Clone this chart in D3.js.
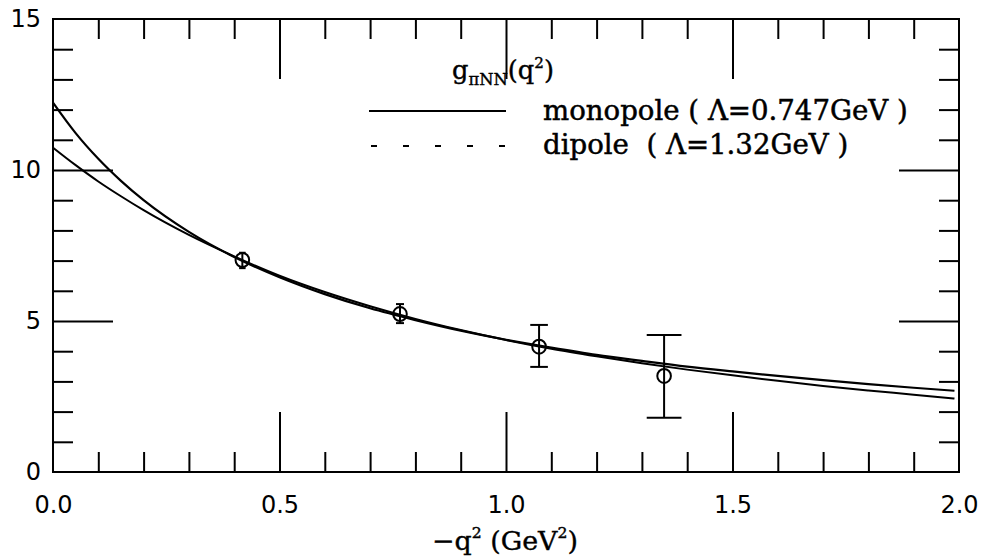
<!DOCTYPE html>
<html>
<head>
<meta charset="utf-8">
<script src="https://cdn.jsdelivr.net/npm/d3@7"></script>
<style>
  html, body { margin: 0; padding: 0; background: #fff; }
  svg { display: block; }
</style>
</head>
<body>
<svg id="chart" width="984" height="560"></svg>
<script>
// ---------- data ----------
const xTickValues = [0.0, 0.5, 1.0, 1.5, 2.0];
const xTickLabels = ["0.0", "0.5", "1.0", "1.5", "2.0"];
const yTickValues = [0, 5, 10, 15];
const yTickLabels = ["0", "5", "10", "15"];

// lattice data points: -q^2 (GeV^2), g, lower and upper error limits
const pointQ2 = [0.418, 0.766, 1.073, 1.349];
const pointG = [7.02, 5.23, 4.15, 3.18];
const pointLow = [6.75, 4.93, 3.48, 1.80];
const pointHigh = [7.26, 5.56, 4.87, 4.54];

// fitted curves
const curveQ2 = [0, 0.05, 0.1, 0.15, 0.2, 0.3, 0.4, 0.5, 0.6, 0.7, 0.8, 0.9,
                 1.0, 1.1, 1.2, 1.3, 1.4, 1.5, 1.6, 1.7, 1.8, 1.9, 1.99];
const monopoleG = [12.23, 11.22, 10.37, 9.64, 9.00, 7.95, 7.12, 6.45, 5.89, 5.42, 5.03, 4.68,
                   4.38, 4.12, 3.88, 3.68, 3.49, 3.33, 3.18, 3.04, 2.91, 2.79, 2.69];
const dipoleG = [10.74, 10.16, 9.62, 9.13, 8.67, 7.85, 7.14, 6.50, 5.96, 5.49, 5.07, 4.70,
                 4.37, 4.08, 3.83, 3.60, 3.39, 3.20, 3.02, 2.85, 2.70, 2.56, 2.43];

const legendLabels = ["monopole ( \u039B=0.747GeV )", "dipole  ( \u039B=1.32GeV )"];

// ---------- layout ----------
const svg = d3.select("#chart");
const pL = 53, pR = 959, pT = 19, pB = 472;
const x = d3.scaleLinear().domain([0, 2]).range([pL, pR]);
const y = d3.scaleLinear().domain([0, 15]).range([pB, pT]);

const xMinor = d3.range(1, 20).map(i => i / 10).filter(v => Math.abs(v * 2 - Math.round(v * 2)) > 1e-6);
const xMajor = [0.5, 1.0, 1.5];
const yMinor = d3.range(1, 15).filter(v => v % 5 !== 0);
const yMajor = [5, 10];

const tickStyle = g => {
  g.select(".domain").remove();
  g.selectAll("line").attr("stroke", "#000").attr("stroke-width", 2);
  g.selectAll("text").remove();
};

// inward ticks using D3 axes
svg.append("g").attr("transform", `translate(0,${pB})`)
  .call(d3.axisBottom(x).tickValues(xMinor).tickSize(-20).tickFormat("")).call(tickStyle);
svg.append("g").attr("transform", `translate(0,${pB})`)
  .call(d3.axisBottom(x).tickValues(xMajor).tickSize(-60).tickFormat("")).call(tickStyle);
svg.append("g").attr("transform", `translate(0,${pT})`)
  .call(d3.axisTop(x).tickValues(xMinor).tickSize(-20).tickFormat("")).call(tickStyle);
svg.append("g").attr("transform", `translate(0,${pT})`)
  .call(d3.axisTop(x).tickValues(xMajor).tickSize(-60).tickFormat("")).call(tickStyle);
svg.append("g").attr("transform", `translate(${pL},0)`)
  .call(d3.axisLeft(y).tickValues(yMinor).tickSize(-20).tickFormat("")).call(tickStyle);
svg.append("g").attr("transform", `translate(${pL},0)`)
  .call(d3.axisLeft(y).tickValues(yMajor).tickSize(-60).tickFormat("")).call(tickStyle);
svg.append("g").attr("transform", `translate(${pR},0)`)
  .call(d3.axisRight(y).tickValues(yMinor).tickSize(-20).tickFormat("")).call(tickStyle);
svg.append("g").attr("transform", `translate(${pR},0)`)
  .call(d3.axisRight(y).tickValues(yMajor).tickSize(-60).tickFormat("")).call(tickStyle);

// frame
svg.append("rect")
  .attr("x", x(0)).attr("y", y(15))
  .attr("width", x(2) - x(0)).attr("height", y(0) - y(15))
  .attr("fill", "none").attr("stroke", "#000").attr("stroke-width", 2);

// tick labels
const xLab = svg.append("g").attr("transform", `translate(0,${pB})`)
  .call(d3.axisBottom(x).tickValues(xTickValues).tickSize(0).tickPadding(24)
    .tickFormat((d, i) => xTickLabels[i]));
xLab.select(".domain").remove();
xLab.selectAll("text").attr("font-family", "DejaVu Sans").attr("font-size", 24).attr("fill", "#000");

const yLab = svg.append("g").attr("transform", `translate(${pL},0)`)
  .call(d3.axisLeft(y).tickValues(yTickValues).tickSize(0).tickPadding(12)
    .tickFormat((d, i) => yTickLabels[i]));
yLab.select(".domain").remove();
yLab.selectAll("text").attr("font-family", "DejaVu Sans").attr("font-size", 24).attr("fill", "#000");

// curves
const line = d3.line().x(d => x(d[0])).y(d => y(d[1])).curve(d3.curveMonotoneX);
svg.append("path").datum(curveQ2.map((q, i) => [q, monopoleG[i]]))
  .attr("d", line).attr("fill", "none").attr("stroke", "#000").attr("stroke-width", 2.2);
svg.append("path").datum(curveQ2.map((q, i) => [q, dipoleG[i]]))
  .attr("d", line).attr("fill", "none").attr("stroke", "#000").attr("stroke-width", 2);

// data points with error bars
const pts = pointQ2.map((q, i) => ({ q, g: pointG[i], lo: pointLow[i], hi: pointHigh[i] }));
const pg = svg.append("g").attr("stroke", "#000").attr("stroke-width", 2).attr("fill", "none");
pts.forEach(p => {
  const cx = x(p.q), yl = y(p.lo), yh = y(p.hi);
  const cap = 0.21 * (yl - yh);
  pg.append("line").attr("x1", cx).attr("x2", cx).attr("y1", yh).attr("y2", yl);
  pg.append("line").attr("x1", cx - cap).attr("x2", cx + cap).attr("y1", yh).attr("y2", yh);
  pg.append("line").attr("x1", cx - cap).attr("x2", cx + cap).attr("y1", yl).attr("y2", yl);
  pg.append("ellipse").attr("cx", cx).attr("cy", y(p.g)).attr("rx", 6.8).attr("ry", 7);
});

// helper: scale a multi-tspan text so that it spans a given width
function fitText(sel, base, targetW) {
  const w = sel.node().getComputedTextLength();
  const k = targetW / w;
  sel.attr("font-size", base * k);
  sel.selectAll("tspan").each(function () {
    const t = d3.select(this);
    const fsz = t.attr("font-size");
    if (fsz) t.attr("font-size", +fsz * k);
    const dy = t.attr("dy");
    if (dy) t.attr("dy", +dy * k);
  });
}

// title g_{piNN}(q^2)
const title = svg.append("text").attr("x", 452).attr("y", 79)
  .attr("font-family", "DejaVu Serif").attr("font-size", 22).attr("fill", "#000")
  .attr("stroke", "#000").attr("stroke-width", 0.4);
title.append("tspan").text("g");
title.append("tspan").attr("font-size", 14).attr("dy", 5).text("\u03C0NN");
title.append("tspan").attr("dy", -5).text("(q");
title.append("tspan").attr("font-size", 13).attr("dy", -9).text("2");
title.append("tspan").attr("dy", 9).text(")");
fitText(title, 22, 102);

// legend
const leg = svg.append("g");
leg.append("line").attr("x1", 369).attr("x2", 506).attr("y1", 111).attr("y2", 111)
  .attr("stroke", "#000").attr("stroke-width", 2);
leg.append("line").attr("x1", 371).attr("x2", 505).attr("y1", 146).attr("y2", 146)
  .attr("stroke", "#000").attr("stroke-width", 2).attr("stroke-dasharray", "6,26");
const t1 = leg.append("text").attr("x", 543).attr("y", 120).style("white-space", "pre")
  .attr("font-family", "DejaVu Serif").attr("font-size", 26).attr("fill", "#000")
  .attr("stroke", "#000").attr("stroke-width", 0.5).text(legendLabels[0]);
const w1 = t1.node().getComputedTextLength();
const fs = 26 * 365 / w1;
t1.attr("font-size", fs);
leg.append("text").attr("x", 543).attr("y", 154).style("white-space", "pre")
  .attr("font-family", "DejaVu Serif").attr("font-size", fs).attr("fill", "#000")
  .attr("stroke", "#000").attr("stroke-width", 0.5).text(legendLabels[1]);

// axis title
const xt = svg.append("text").attr("x", 432).attr("y", 550)
  .attr("font-family", "DejaVu Serif").attr("font-size", 24).attr("fill", "#000")
  .attr("stroke", "#000").attr("stroke-width", 0.4);
xt.append("tspan").text("\u2212q");
xt.append("tspan").attr("font-size", 14).attr("dy", -11).text("2");
xt.append("tspan").attr("dy", 11).style("white-space", "pre").text(" (GeV");
xt.append("tspan").attr("font-size", 14).attr("dy", -11).text("2");
xt.append("tspan").attr("dy", 11).text(")");
fitText(xt, 24, 146);
</script>
</body>
</html>
